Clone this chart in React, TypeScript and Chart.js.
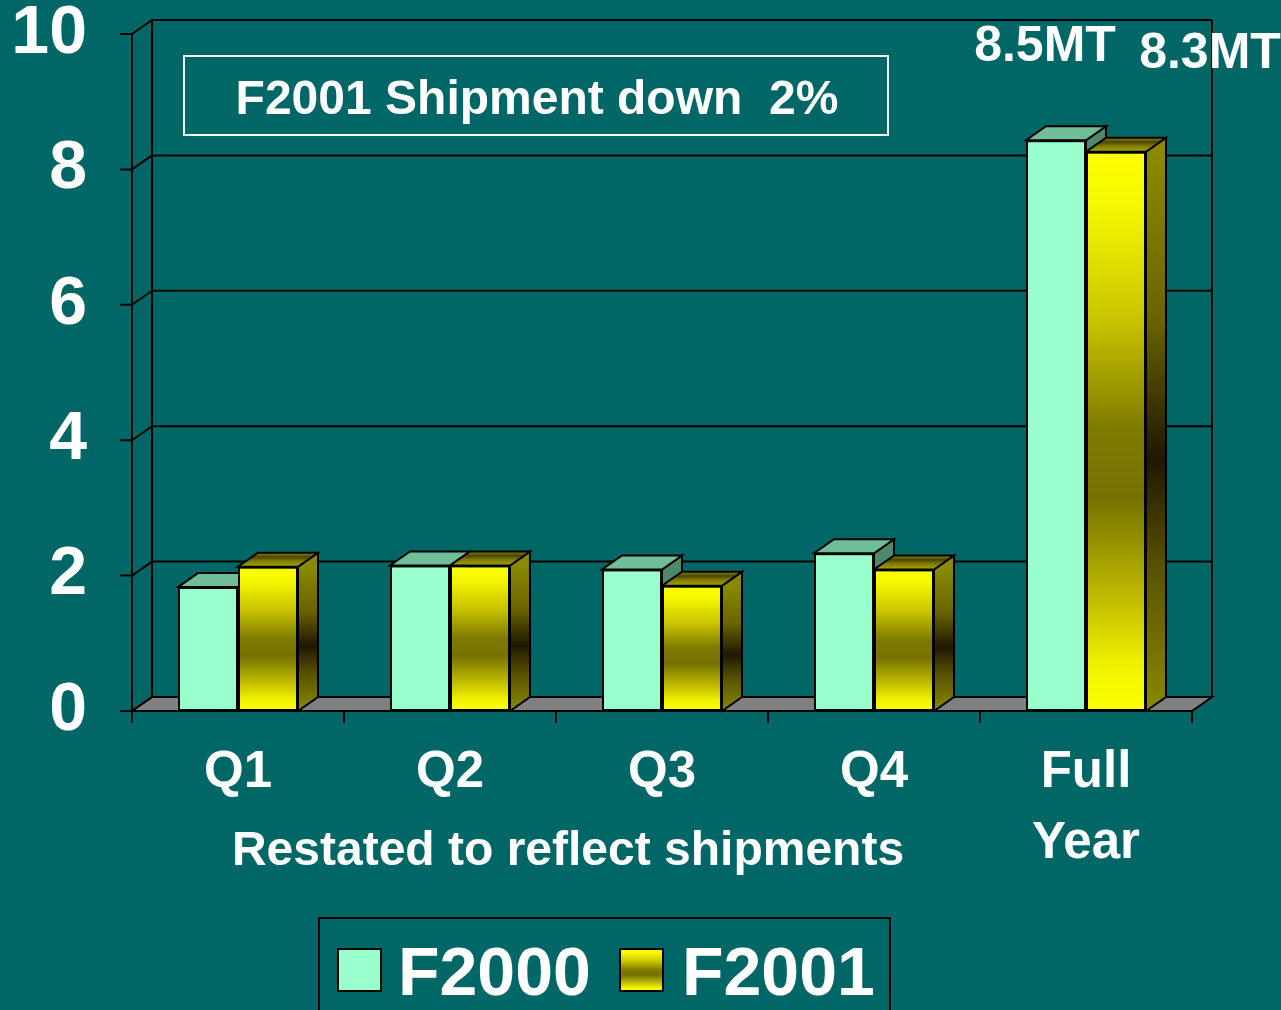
import { useEffect, useRef } from 'react';
import { Chart, registerables } from 'chart.js';

Chart.register(...registerables);

const categories: (string | string[])[] = ['Q1', 'Q2', 'Q3', 'Q4', ['Full', 'Year']];
const f2000Values = [1.83, 2.15, 2.09, 2.33, 8.43];
const f2001Values = [2.13, 2.15, 1.85, 2.09, 8.26];
const seriesNames = ['F2000', 'F2001'];
const yMin = 0;
const yMax = 10;
const yStep = 2;
const fullYearNotes = ['8.5MT', '8.3MT'];
const titleText = 'F2001 Shipment down  2%';
const axisNote = 'Restated to reflect shipments';

const BG = '#006666';
const DX = 20;
const DY = 14;
const FONT = "'Liberation Sans', Arial, Helvetica, sans-serif";
const GREEN = '#99FFCC';
const GREEN_TOP = '#70BE98';
const GREEN_SIDE = '#4D8A6C';

function ok(a: number, b: number) {
  return Number.isFinite(a) && Number.isFinite(b) && a !== b;
}

function yellowFront(ctx: CanvasRenderingContext2D, top: number, bottom: number): any {
  if (!ok(top, bottom)) return '#FFFF00';
  const g = ctx.createLinearGradient(0, top, 0, bottom);
  g.addColorStop(0, '#FFFF00');
  g.addColorStop(0.1, '#F6F600');
  g.addColorStop(0.3, '#C8C400');
  g.addColorStop(0.5, '#7E7A00');
  g.addColorStop(0.62, '#767200');
  g.addColorStop(0.8, '#C0BC00');
  g.addColorStop(0.92, '#F2F200');
  g.addColorStop(1, '#FFFF00');
  return g;
}

function yellowSide(ctx: CanvasRenderingContext2D, top: number, bottom: number): any {
  if (!ok(top, bottom)) return '#808000';
  const g = ctx.createLinearGradient(0, top, 0, bottom);
  g.addColorStop(0, '#8A8A00');
  g.addColorStop(0.3, '#6A6400');
  g.addColorStop(0.55, '#1E1800');
  g.addColorStop(0.75, '#5A5400');
  g.addColorStop(1, '#8A8A00');
  return g;
}

function yellowTop(ctx: CanvasRenderingContext2D, back: number, front: number): any {
  if (!ok(back, front)) return '#999900';
  const g = ctx.createLinearGradient(0, back, 0, front);
  g.addColorStop(0, '#8C8C00');
  g.addColorStop(0.3, '#4A4400');
  g.addColorStop(0.55, '#7A7600');
  g.addColorStop(1, '#A8A800');
  return g;
}

const threeD = {
  id: 'threeD',
  beforeDraw(chart: any) {
    const ctx = chart.ctx as CanvasRenderingContext2D;
    ctx.save();
    ctx.fillStyle = BG;
    ctx.fillRect(0, 0, chart.width, chart.height);
    ctx.restore();
  },
  beforeDatasetsDraw(chart: any) {
    const ctx = chart.ctx as CanvasRenderingContext2D;
    const ys = chart.scales.y;
    const xs = chart.scales.x;
    const { left, right, bottom } = chart.chartArea;
    const yTop = ys.getPixelForValue(yMax);
    ctx.save();
    ctx.strokeStyle = '#000';
    ctx.lineWidth = 2;
    ctx.lineJoin = 'miter';

    // floor
    ctx.beginPath();
    ctx.moveTo(left, bottom);
    ctx.lineTo(right, bottom);
    ctx.lineTo(right + DX, bottom - DY);
    ctx.lineTo(left + DX, bottom - DY);
    ctx.closePath();
    ctx.fillStyle = '#808080';
    ctx.fill();
    ctx.stroke();

    // back wall grid & left wall connectors
    ys.ticks.forEach((t: any) => {
      const y = ys.getPixelForValue(t.value);
      ctx.beginPath();
      ctx.moveTo(left + DX, y - DY);
      ctx.lineTo(right + DX, y - DY);
      ctx.moveTo(left, y);
      ctx.lineTo(left + DX, y - DY);
      ctx.moveTo(left - 12, y);
      ctx.lineTo(left, y);
      ctx.stroke();
    });
    ctx.beginPath();
    ctx.moveTo(left, yTop);
    ctx.lineTo(left, bottom + 12);
    ctx.moveTo(left + DX, yTop - DY);
    ctx.lineTo(left + DX, bottom - DY);
    ctx.moveTo(right + DX, yTop - DY);
    ctx.lineTo(right + DX, bottom - DY);
    ctx.stroke();

    // category boundary ticks
    const n = categories.length;
    const bounds: number[] = [left, right];
    for (let i = 1; i < n; i++) {
      bounds.push((xs.getPixelForValue(i - 1) + xs.getPixelForValue(i)) / 2);
    }
    ctx.beginPath();
    bounds.forEach((x) => {
      ctx.moveTo(x, bottom);
      ctx.lineTo(x, bottom + 12);
    });
    ctx.stroke();

    // 3D top & side faces (fronts drawn by Chart.js afterwards)
    for (let d = 0; d < chart.data.datasets.length; d++) {
      const meta = chart.getDatasetMeta(d);
      meta.data.forEach((el: any) => {
        const p = el.getProps(['x', 'y', 'base', 'width'], true);
        if (![p.x, p.y, p.base, p.width].every((v: number) => Number.isFinite(v))) return;
        const l = p.x - p.width / 2;
        const r = p.x + p.width / 2;
        const y = p.y;
        const base = p.base;
        // side
        ctx.beginPath();
        ctx.moveTo(r, y);
        ctx.lineTo(r + DX, y - DY);
        ctx.lineTo(r + DX, base - DY);
        ctx.lineTo(r, base);
        ctx.closePath();
        ctx.fillStyle = d === 0 ? GREEN_SIDE : yellowSide(ctx, y, base);
        ctx.fill();
        ctx.stroke();
        // top
        ctx.beginPath();
        ctx.moveTo(l, y);
        ctx.lineTo(r, y);
        ctx.lineTo(r + DX, y - DY);
        ctx.lineTo(l + DX, y - DY);
        ctx.closePath();
        ctx.fillStyle = d === 0 ? GREEN_TOP : yellowTop(ctx, y - DY, y);
        ctx.fill();
        ctx.stroke();
      });
    }
    ctx.restore();
  },
  afterDraw(chart: any) {
    const ctx = chart.ctx as CanvasRenderingContext2D;
    ctx.save();
    ctx.fillStyle = '#FFFFFF';
    ctx.textBaseline = 'alphabetic';

    // title box
    ctx.strokeStyle = '#F4F4F4';
    ctx.lineWidth = 2;
    ctx.strokeRect(184, 56, 704, 79);
    ctx.font = `bold 48px ${FONT}`;
    ctx.textAlign = 'center';
    ctx.fillText(titleText, 537, 114);

    // full year notes
    ctx.font = `bold 50px ${FONT}`;
    ctx.fillText(fullYearNotes[0], 1045, 61);
    ctx.fillText(fullYearNotes[1], 1210, 68);

    // axis note
    ctx.font = `bold 48px ${FONT}`;
    ctx.fillText(axisNote, 568, 865);

    // legend
    ctx.strokeStyle = '#000';
    ctx.lineWidth = 2;
    ctx.strokeRect(319, 918, 571, 120);
    ctx.fillStyle = GREEN;
    ctx.fillRect(338, 949, 43, 42);
    ctx.strokeRect(338, 949, 43, 42);
    ctx.fillStyle = yellowFront(ctx, 949, 991);
    ctx.fillRect(620, 949, 43, 42);
    ctx.strokeRect(620, 949, 43, 42);
    ctx.fillStyle = '#FFFFFF';
    ctx.textAlign = 'left';
    ctx.font = `bold 68px ${FONT}`;
    ctx.fillText(seriesNames[0], 398, 995);
    ctx.fillText(seriesNames[1], 682, 995);
    ctx.restore();
  },
};

export default function App() {
  const ref = useRef<HTMLCanvasElement | null>(null);

  useEffect(() => {
    document.body.style.margin = '0';
    document.body.style.background = BG;
    const canvas = ref.current;
    if (!canvas) return;
    const chart = new Chart(canvas, {
      type: 'bar',
      data: {
        labels: categories as any,
        datasets: [
          {
            label: seriesNames[0],
            data: f2000Values,
            backgroundColor: GREEN,
            borderColor: '#000000',
            borderWidth: 2,
            borderSkipped: false,
            categoryPercentage: 0.566,
            barPercentage: 1.0,
          },
          {
            label: seriesNames[1],
            data: f2001Values,
            backgroundColor: (c: any) => {
              const ys = c.chart.scales && c.chart.scales.y;
              if (!ys || typeof c.raw !== 'number') return '#FFFF00';
              const top = ys.getPixelForValue(c.raw);
              const base = ys.getPixelForValue(0);
              return yellowFront(c.chart.ctx, top, base);
            },
            borderColor: '#000000',
            borderWidth: 2,
            borderSkipped: false,
            categoryPercentage: 0.566,
            barPercentage: 1.0,
          },
        ],
      },
      options: {
        responsive: false,
        animation: false,
        devicePixelRatio: 1,
        layout: { padding: { left: 0, right: 89, top: 34, bottom: 0 } },
        plugins: {
          legend: { display: false },
          tooltip: { enabled: false },
          title: { display: false },
        },
        scales: {
          x: {
            grid: { display: false, drawTicks: false },
            border: { display: false },
            ticks: {
              color: '#FFFFFF',
              font: { family: FONT, size: 51, weight: 'bold', lineHeight: 1.4 },
              padding: 26,
              maxRotation: 0,
              autoSkip: false,
            },
            afterFit: (s: any) => {
              s.height = 299;
              s.paddingLeft = 0;
              s.paddingRight = 0;
            },
          },
          y: {
            min: yMin,
            max: yMax,
            grid: { display: false, drawTicks: false },
            border: { display: false },
            ticks: {
              stepSize: yStep,
              color: '#FFFFFF',
              font: { family: FONT, size: 68, weight: 'bold', lineHeight: 1.0 },
              padding: 45,
            },
            afterFit: (s: any) => {
              s.width = 132;
              s.paddingTop = 0;
              s.paddingBottom = 0;
            },
          },
        },
      },
      plugins: [threeD],
    } as any);
    return () => chart.destroy();
  }, []);

  return (
    <div style={{ width: 1281, height: 1010, overflow: 'hidden', background: BG }}>
      <canvas ref={ref} width={1281} height={1010} style={{ display: 'block' }} />
    </div>
  );
}
